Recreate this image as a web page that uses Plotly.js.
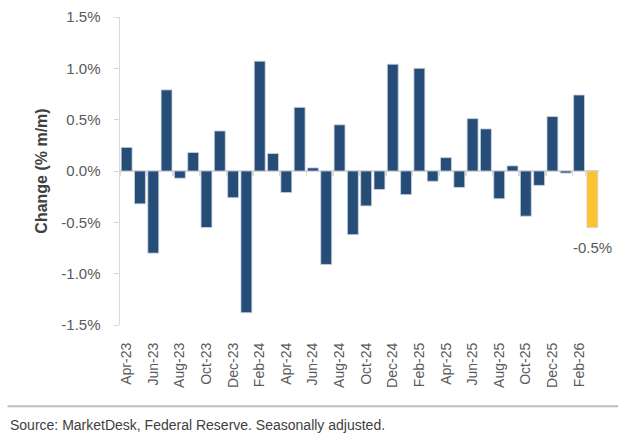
<!DOCTYPE html>
<html>
<head>
<meta charset="utf-8">
<script src="https://cdn.plot.ly/plotly-3.0.1.min.js"></script>
<style>
  html, body { margin: 0; padding: 0; background: #fff; }
  #chart { width: 626px; height: 443px; }
</style>
</head>
<body>
<div id="chart"></div>
<script>
// monthly change, % m/m
var months = ["Apr-23","May-23","Jun-23","Jul-23","Aug-23","Sep-23","Oct-23","Nov-23","Dec-23",
  "Jan-24","Feb-24","Mar-24","Apr-24","May-24","Jun-24","Jul-24","Aug-24","Sep-24","Oct-24","Nov-24","Dec-24",
  "Jan-25","Feb-25","Mar-25","Apr-25","May-25","Jun-25","Jul-25","Aug-25","Sep-25","Oct-25","Nov-25","Dec-25",
  "Jan-26","Feb-26","Mar-26"];
var changes = [0.23,-0.32,-0.80,0.79,-0.07,0.18,-0.55,0.39,-0.26,
  -1.38,1.07,0.17,-0.21,0.62,0.03,-0.91,0.45,-0.62,-0.34,-0.18,1.04,
  -0.23,1.00,-0.10,0.13,-0.16,0.51,0.41,-0.27,0.05,-0.44,-0.14,0.53,
  -0.02,0.74,-0.55];
var yTicks = [-1.5,-1.0,-0.5,0,0.5,1.0,1.5];
var yTickText = ["-1.5%","-1.0%","-0.5%","0.0%","0.5%","1.0%","1.5%"];
var lastLabel = "-0.5%";

var navy = "#264d78";
var gold = "#fdc32e";

var n = months.length;
var colors = [];
for (var i = 0; i < n; i++) {
  colors.push(i == n - 1 ? gold : navy);
}

// every other month gets a label
var labelMonths = [];
for (var i = 0; i < n; i += 2) {
  labelMonths.push(months[i]);
}

var bars = {
  x: months,
  y: changes,
  type: 'bar',
  marker: { color: colors, line: { color: '#c9d3de', width: 0.8 } },
  hoverinfo: 'x+y'
};

// empty trace so the zero-line tick axis has categories
var tickHolder = {
  x: months,
  y: months.map(function(){ return null; }),
  xaxis: 'x2',
  type: 'bar',
  showlegend: false,
  hoverinfo: 'skip'
};

var layout = {
  width: 626,
  height: 443,
  margin: { l: 120, r: 27, t: 17, b: 118 },
  paper_bgcolor: '#fff',
  plot_bgcolor: '#fff',
  showlegend: false,
  bargap: 0.18,
  font: { family: 'Liberation Sans, Arial, sans-serif', color: '#595959', size: 14 },
  xaxis: {
    type: 'category',
    range: [-0.5, n - 0.5],
    tickmode: 'array',
    tickvals: labelMonths,
    ticktext: labelMonths,
    tickangle: -90,
    ticks: '',
    showline: false,
    showgrid: false,
    zeroline: false,
    ticklabelstandoff: 14,
    tickfont: { size: 14, color: '#595959' }
  },
  xaxis2: {
    type: 'category',
    overlaying: 'x',
    matches: 'x',
    anchor: 'free',
    position: 0.5,
    side: 'bottom',
    tickmode: 'array',
    tickvals: labelMonths,
    tickson: 'boundaries',
    ticks: 'outside',
    ticklen: 4,
    tickwidth: 1.5,
    tickcolor: '#d9d9d9',
    showticklabels: false,
    showline: false,
    showgrid: false,
    zeroline: false
  },
  yaxis: {
    range: [-1.5, 1.5],
    tickmode: 'array',
    tickvals: yTicks,
    ticktext: yTickText,
    ticks: 'outside',
    ticklen: 5,
    tickwidth: 1,
    tickcolor: '#d9d9d9',
    showline: true,
    linecolor: '#d9d9d9',
    linewidth: 1.5,
    showgrid: false,
    zeroline: true,
    zerolinecolor: '#d9d9d9',
    zerolinewidth: 2,
    ticklabelstandoff: 10,
    tickfont: { size: 15, color: '#595959' },
    title: {
      text: 'Change (% m/m)',
      font: { size: 16, color: '#404040', weight: 'bold' },
      standoff: 9
    }
  },
  annotations: [
    {
      x: months[n - 1],
      y: changes[n - 1],
      xref: 'x',
      yref: 'y',
      text: lastLabel,
      showarrow: false,
      yanchor: 'top',
      yshift: -10,
      font: { size: 15, color: '#595959' }
    },
    {
      x: 0, y: 0,
      xref: 'paper', yref: 'paper',
      xshift: -112, yshift: -90,
      xanchor: 'left', yanchor: 'top',
      text: 'Source: MarketDesk, Federal Reserve. Seasonally adjusted.',
      showarrow: false,
      font: { size: 14, color: '#404040' }
    }
  ],
  shapes: [
    {
      type: 'line',
      xref: 'paper', yref: 'paper',
      x0: -0.235, x1: 1.04,
      y0: -0.264, y1: -0.264,
      line: { color: '#bfbfbf', width: 2 }
    }
  ]
};

Plotly.newPlot('chart', [bars, tickHolder], layout, { displayModeBar: false, staticPlot: true });
</script>
</body>
</html>
